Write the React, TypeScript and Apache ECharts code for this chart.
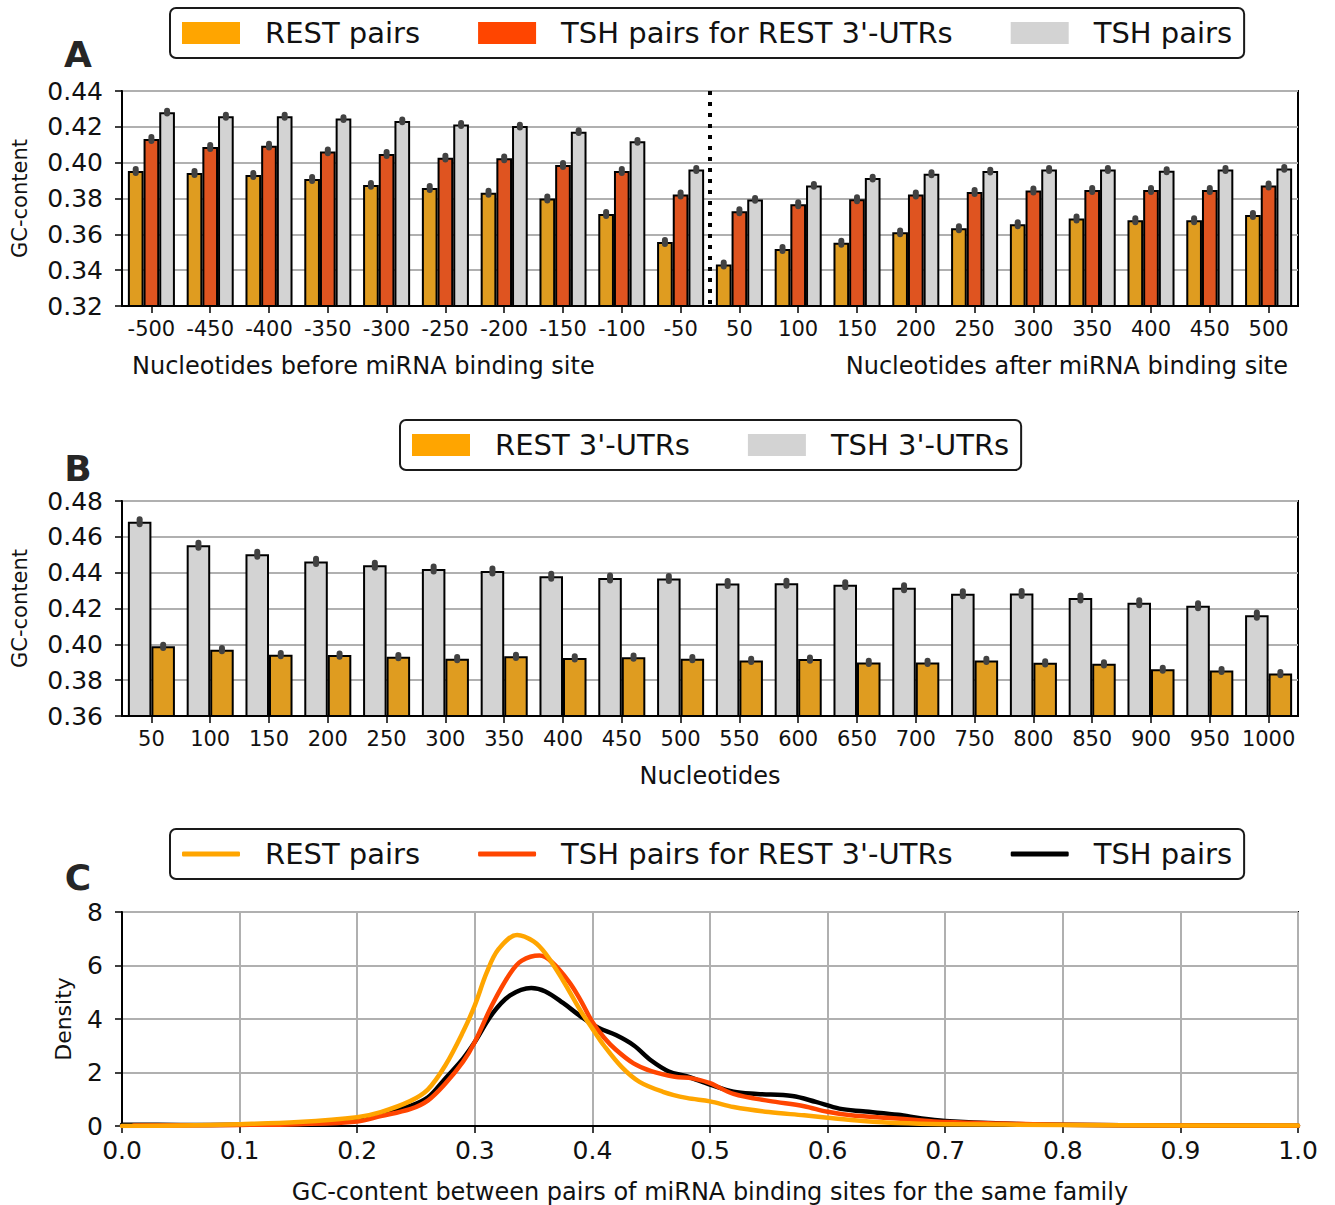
import React, { useEffect, useRef } from 'react';
import * as echarts from 'echarts';

const A_CATS = ['-500', '-450', '-400', '-350', '-300', '-250', '-200', '-150', '-100', '-50', '50', '100', '150', '200', '250', '300', '350', '400', '450', '500'];
const A_REST = [0.3953, 0.3942, 0.3931, 0.3909, 0.3876, 0.3859, 0.3832, 0.380, 0.3713, 0.3557, 0.3432, 0.3518, 0.3553, 0.3611, 0.3634, 0.3656, 0.3688, 0.3679, 0.3679, 0.3708];
const A_TSH_REST = [0.4132, 0.4087, 0.4095, 0.4063, 0.4048, 0.4028, 0.4024, 0.3987, 0.3953, 0.3822, 0.3729, 0.3768, 0.3796, 0.3822, 0.3836, 0.3845, 0.3847, 0.3847, 0.3847, 0.3873];
const A_TSH = [0.4282, 0.4259, 0.4259, 0.4246, 0.4233, 0.4213, 0.4204, 0.4173, 0.4119, 0.3962, 0.3795, 0.3873, 0.3914, 0.3938, 0.3953, 0.3962, 0.3962, 0.3955, 0.3962, 0.3968];
const A_SPLIT_AFTER = 9;

const B_CATS = ['50', '100', '150', '200', '250', '300', '350', '400', '450', '500', '550', '600', '650', '700', '750', '800', '850', '900', '950', '1000'];
const B_TSH = [0.4684, 0.4553, 0.4503, 0.4463, 0.4441, 0.4420, 0.4409, 0.4380, 0.4370, 0.4368, 0.4339, 0.4341, 0.4333, 0.4316, 0.4282, 0.4284, 0.4259, 0.4232, 0.4215, 0.4163];
const B_REST = [0.3989, 0.3970, 0.3942, 0.3940, 0.3931, 0.3920, 0.3933, 0.3924, 0.3928, 0.3920, 0.3910, 0.3918, 0.3899, 0.3899, 0.3910, 0.3897, 0.3891, 0.3861, 0.3854, 0.3837];

const C_REST = [[0.0, 0.0], [0.05, 0.02], [0.1, 0.07], [0.15, 0.15], [0.2, 0.33], [0.22, 0.52], [0.245, 0.93], [0.26, 1.36], [0.275, 2.27], [0.29, 3.52], [0.30, 4.51], [0.31, 5.72], [0.32, 6.6], [0.336, 7.14], [0.35, 6.9], [0.36, 6.45], [0.375, 5.44], [0.39, 4.3], [0.40, 3.64], [0.41, 3.0], [0.425, 2.2], [0.44, 1.65], [0.46, 1.28], [0.48, 1.05], [0.50, 0.92], [0.52, 0.71], [0.55, 0.52], [0.58, 0.40], [0.60, 0.31], [0.63, 0.19], [0.66, 0.11], [0.70, 0.07], [0.8, 0.04], [0.9, 0.02], [1.0, 0.02]];
const C_TSH_REST = [[0.01, 0.02], [0.1, 0.04], [0.15, 0.07], [0.2, 0.17], [0.22, 0.37], [0.245, 0.63], [0.26, 0.95], [0.275, 1.59], [0.29, 2.40], [0.30, 3.14], [0.315, 4.55], [0.33, 5.7], [0.34, 6.18], [0.355, 6.37], [0.365, 6.15], [0.38, 5.4], [0.39, 4.7], [0.40, 3.89], [0.41, 3.3], [0.42, 2.85], [0.435, 2.34], [0.45, 2.05], [0.47, 1.84], [0.485, 1.78], [0.50, 1.6], [0.52, 1.2], [0.55, 0.94], [0.58, 0.74], [0.60, 0.53], [0.62, 0.40], [0.65, 0.31], [0.68, 0.21], [0.70, 0.15], [0.75, 0.09], [0.8, 0.05], [0.9, 0.02], [1.0, 0.01]];
const C_TSH = [[0.0, 0.05], [0.05, 0.04], [0.1, 0.05], [0.15, 0.1], [0.2, 0.25], [0.22, 0.45], [0.245, 0.75], [0.26, 1.06], [0.275, 1.78], [0.29, 2.52], [0.30, 3.14], [0.315, 4.2], [0.33, 4.88], [0.348, 5.16], [0.36, 5.03], [0.375, 4.6], [0.39, 4.1], [0.405, 3.67], [0.42, 3.4], [0.435, 3.02], [0.45, 2.45], [0.465, 2.04], [0.48, 1.86], [0.50, 1.55], [0.52, 1.28], [0.54, 1.2], [0.57, 1.12], [0.59, 0.9], [0.61, 0.65], [0.63, 0.55], [0.66, 0.42], [0.68, 0.28], [0.70, 0.19], [0.75, 0.09], [0.8, 0.05], [0.9, 0.02], [1.0, 0.01]];

const NAME_REST = 'REST pairs';
const NAME_TSH_REST = "TSH pairs for REST 3'-UTRs";
const NAME_TSH = 'TSH pairs';
const NAME_B_REST = "REST 3'-UTRs";
const NAME_B_TSH = "TSH 3'-UTRs";

const FONT = 'DejaVu Sans';
const TXT = '#111';
const C_ORANGE = '#FFA500';
const C_RED = '#FF4500';
const C_GRAY = '#D3D3D3';
const BAR_ORANGE = '#DF9C20';
const BAR_RED = '#DF5420';
const ERR_COLOR = '#424242';

function errSeries(values: number[], axis: number, off: number, half: number) {
  return {
    type: 'custom',
    xAxisIndex: axis,
    yAxisIndex: axis,
    z: 10,
    silent: true,
    data: values.map((v, i) => [i, v]),
    encode: { x: 0, y: 1 },
    renderItem: (_params: any, api: any) => {
      const i = api.value(0);
      const v = api.value(1);
      const p1 = api.coord([i, v + half]);
      const p2 = api.coord([i, v - half]);
      const band = api.size([1, 0])[0];
      const x = p1[0] + off * band;
      return {
        type: 'line',
        shape: { x1: x, y1: p1[1], x2: x, y2: p2[1] },
        style: { stroke: ERR_COLOR, lineWidth: 6, lineCap: 'round' },
      };
    },
  };
}

function barSeries(name: string, data: number[], axis: number, color: string) {
  return {
    type: 'bar',
    name,
    data,
    xAxisIndex: axis,
    yAxisIndex: axis,
    barGap: '0%',
    barCategoryGap: '20%',
    itemStyle: { color, borderColor: '#000', borderWidth: 2 },
  };
}

function lineSeries(name: string, data: number[][], color: string) {
  return {
    type: 'line',
    name,
    data,
    xAxisIndex: 2,
    yAxisIndex: 2,
    smooth: 0.35,
    showSymbol: false,
    symbol: 'none',
    lineStyle: { color, width: 4.5, cap: 'round', join: 'round' },
    itemStyle: { color },
  };
}

const legendBase = {
  orient: 'horizontal',
  borderColor: '#1a1a1a',
  borderWidth: 2,
  borderRadius: 6,
  padding: [10, 12],
  itemWidth: 58,
  itemHeight: 22,
  itemGap: 58,
  selectedMode: false,
  textStyle: { fontFamily: FONT, fontSize: 29, color: TXT, lineHeight: 30, padding: [0, 0, 0, 20] },
};

const noBorder = { borderWidth: 0, borderColor: 'transparent' };

const tickLabel = (size: number) => ({ fontFamily: FONT, fontSize: size, color: TXT });

function catAxis(cats: string[], grid: number, extra: any = {}) {
  return {
    type: 'category',
    gridIndex: grid,
    data: cats,
    axisLine: { show: true, lineStyle: { color: '#000', width: 2 } },
    axisTick: { show: true, alignWithLabel: true, interval: 0, length: 7, lineStyle: { color: '#000', width: 1.5 } },
    axisLabel: { ...tickLabel(21), margin: 12, interval: 0 },
    splitLine: { show: false },
    ...extra,
  };
}

function valAxis(grid: number, min: number, max: number, interval: number, digits: number, extra: any = {}) {
  return {
    type: 'value',
    gridIndex: grid,
    min,
    max,
    interval,
    axisLine: { show: true, lineStyle: { color: '#000', width: 2 } },
    axisTick: { show: true, length: 7, lineStyle: { color: '#000', width: 1.5 } },
    axisLabel: { ...tickLabel(25), margin: 19, formatter: (v: number) => v.toFixed(digits) },
    splitLine: { show: true, lineStyle: { color: '#b0b0b0', width: 2 } },
    ...extra,
  };
}

const App: React.FC = () => {
  const ref = useRef<HTMLDivElement>(null);
  useEffect(() => {
    document.body.style.margin = '0';
    if (!ref.current) return;
    const chart = echarts.init(ref.current, null, { renderer: 'svg' });
    const option: any = {
      animation: false,
      backgroundColor: '#fff',
      grid: [
        { left: 122, top: 91, width: 1176, height: 215, show: true, borderColor: '#000', borderWidth: 2 },
        { left: 122, top: 501, width: 1176, height: 215, show: true, borderColor: '#000', borderWidth: 2 },
        { left: 122, top: 912, width: 1176, height: 214, show: true, borderColor: '#000', borderWidth: 2 },
      ],
      legend: [
        {
          ...legendBase,
          left: 170,
          top: 8,
          data: [
            { name: NAME_REST, icon: 'rect', itemStyle: { color: C_ORANGE, ...noBorder } },
            { name: NAME_TSH_REST, icon: 'rect', itemStyle: { color: C_RED, ...noBorder } },
            { name: NAME_TSH, icon: 'rect', itemStyle: { color: C_GRAY, ...noBorder } },
          ],
        },
        {
          ...legendBase,
          left: 400,
          top: 420,
          data: [
            { name: NAME_B_REST, icon: 'rect', itemStyle: { color: C_ORANGE, ...noBorder } },
            { name: NAME_B_TSH, icon: 'rect', itemStyle: { color: C_GRAY, ...noBorder } },
          ],
        },
        {
          ...legendBase,
          left: 170,
          top: 829,
          itemHeight: 5,
          data: [
            { name: NAME_REST, icon: 'roundRect', itemStyle: { color: C_ORANGE, ...noBorder } },
            { name: NAME_TSH_REST, icon: 'roundRect', itemStyle: { color: C_RED, ...noBorder } },
            { name: NAME_TSH, icon: 'roundRect', itemStyle: { color: '#000', ...noBorder } },
          ],
        },
      ],
      xAxis: [
        catAxis(A_CATS, 0),
        catAxis(B_CATS, 1, {
          name: 'Nucleotides',
          nameLocation: 'middle',
          nameGap: 48,
          nameTextStyle: { fontFamily: FONT, fontSize: 24, color: TXT },
        }),
        {
          type: 'value',
          gridIndex: 2,
          min: 0,
          max: 1,
          interval: 0.1,
          name: 'GC-content between pairs of miRNA binding sites for the same family',
          nameLocation: 'middle',
          nameGap: 54,
          nameTextStyle: { fontFamily: FONT, fontSize: 24, color: TXT },
          axisLine: { show: true, lineStyle: { color: '#000', width: 2 } },
          axisTick: { show: true, length: 7, lineStyle: { color: '#000', width: 1.5 } },
          axisLabel: { ...tickLabel(25), margin: 12, formatter: (v: number) => v.toFixed(1) },
          splitLine: { show: true, lineStyle: { color: '#b0b0b0', width: 2 } },
        },
      ],
      yAxis: [
        valAxis(0, 0.32, 0.44, 0.02, 2, {
          name: 'GC-content', nameLocation: 'middle', nameGap: 92,
          nameTextStyle: { fontFamily: FONT, fontSize: 21, color: TXT },
        }),
        valAxis(1, 0.36, 0.48, 0.02, 2, {
          name: 'GC-content', nameLocation: 'middle', nameGap: 92,
          nameTextStyle: { fontFamily: FONT, fontSize: 21, color: TXT },
        }),
        valAxis(2, 0, 8, 2, 0, {
          name: 'Density', nameLocation: 'middle', nameGap: 48,
          nameTextStyle: { fontFamily: FONT, fontSize: 22, color: TXT },
        }),
      ],
      graphic: [
        { type: 'text', x: 78, y: 54, style: { text: 'A', font: `bold 36px "${FONT}"`, fill: '#262626', align: 'center', verticalAlign: 'middle' } },
        { type: 'text', x: 78, y: 468, style: { text: 'B', font: `bold 36px "${FONT}"`, fill: '#262626', align: 'center', verticalAlign: 'middle' } },
        { type: 'text', x: 78, y: 877, style: { text: 'C', font: `bold 36px "${FONT}"`, fill: '#262626', align: 'center', verticalAlign: 'middle' } },
        { type: 'text', x: 132, y: 366, style: { text: 'Nucleotides before miRNA binding site', font: `24px "${FONT}"`, fill: TXT, align: 'left', verticalAlign: 'middle' } },
        { type: 'text', x: 1288, y: 366, style: { text: 'Nucleotides after miRNA binding site', font: `24px "${FONT}"`, fill: TXT, align: 'right', verticalAlign: 'middle' } },
      ],
      series: [
        barSeries(NAME_REST, A_REST, 0, BAR_ORANGE),
        barSeries(NAME_TSH_REST, A_TSH_REST, 0, BAR_RED),
        barSeries(NAME_TSH, A_TSH, 0, C_GRAY),
        errSeries(A_REST, 0, -0.8 / 3, 0.0011),
        errSeries(A_TSH_REST, 0, 0, 0.0011),
        errSeries(A_TSH, 0, 0.8 / 3, 0.0008),
        {
          type: 'custom',
          xAxisIndex: 0,
          yAxisIndex: 0,
          z: 12,
          silent: true,
          data: [[A_SPLIT_AFTER, 0.38]],
          encode: { x: 0, y: 1 },
          renderItem: (params: any, api: any) => {
            const i = api.value(0);
            const a = api.coord([i, 0.38]);
            const b = api.coord([i + 1, 0.38]);
            const x = (a[0] + b[0]) / 2;
            const cs = params.coordSys;
            return {
              type: 'line',
              shape: { x1: x, y1: cs.y, x2: x, y2: cs.y + cs.height },
              style: { stroke: '#000', lineWidth: 4, lineDash: [4, 7] },
            };
          },
        },
        barSeries(NAME_B_TSH, B_TSH, 1, C_GRAY),
        barSeries(NAME_B_REST, B_REST, 1, BAR_ORANGE),
        errSeries(B_TSH, 1, -0.2, 0.0014),
        errSeries(B_REST, 1, 0.2, 0.0009),
        lineSeries(NAME_TSH, C_TSH, '#000'),
        lineSeries(NAME_TSH_REST, C_TSH_REST, C_RED),
        lineSeries(NAME_REST, C_REST, C_ORANGE),
      ],
    };
    chart.setOption(option);
    return () => chart.dispose();
  }, []);
  return <div ref={ref} style={{ width: 1335, height: 1205 }} />;
};

export default App;
